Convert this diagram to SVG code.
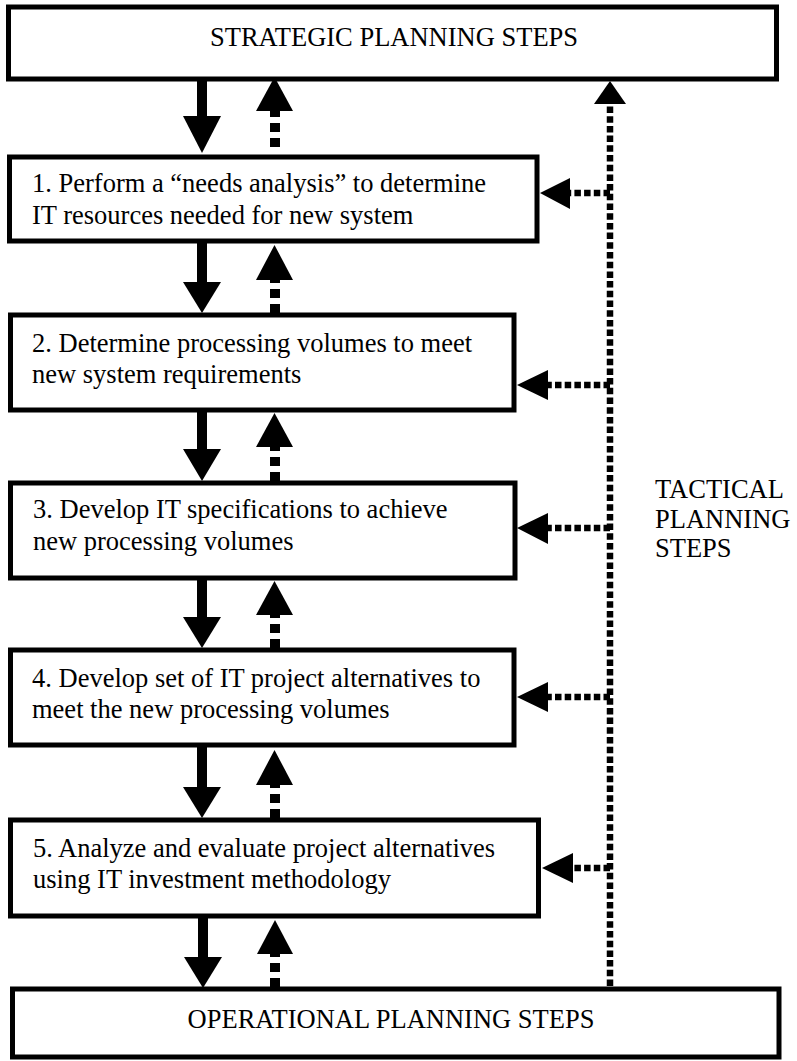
<svg xmlns="http://www.w3.org/2000/svg" width="797" height="1061" viewBox="0 0 797 1061">
  <style>
    .box { fill: #fff; stroke: #000; stroke-width: 5; }
    .lbl { font-family: "Liberation Serif", "Times New Roman", serif; font-size: 26.5px; fill: #000; }
    .solid { stroke: #000; stroke-width: 10; fill: none; }
    .dash { stroke: #000; stroke-width: 10; fill: none; stroke-dasharray: 9 6; }
    .dot { stroke: #000; stroke-width: 6.5; fill: none; stroke-dasharray: 6.5 3.2; }
    .head { fill: #000; }
  </style>
  <rect width="797" height="1061" fill="#fff"/>

  <g id="strategic">
    <rect class="box" x="8.5" y="7" width="768" height="72"/>
    <text class="lbl" x="394" y="46" text-anchor="middle">STRATEGIC PLANNING STEPS</text>
  </g>

  <g id="step1">
    <rect class="box" x="9.5" y="157" width="527.5" height="84"/>
    <text class="lbl" x="32" y="192">1. Perform a “needs analysis” to determine</text>
    <text class="lbl" x="32" y="224">IT resources needed for new system</text>
  </g>

  <g id="step2">
    <rect class="box" x="10.5" y="315" width="503.5" height="95"/>
    <text class="lbl" x="32" y="352">2. Determine processing volumes to meet</text>
    <text class="lbl" x="32" y="383">new system requirements</text>
  </g>

  <g id="step3">
    <rect class="box" x="10.5" y="483" width="504.5" height="95"/>
    <text class="lbl" x="33" y="518">3. Develop IT specifications to achieve</text>
    <text class="lbl" x="33" y="550">new processing volumes</text>
  </g>

  <g id="step4">
    <rect class="box" x="10.5" y="650" width="503.5" height="95"/>
    <text class="lbl" x="32" y="687">4. Develop set of IT project alternatives to</text>
    <text class="lbl" x="32" y="718">meet the new processing volumes</text>
  </g>

  <g id="step5">
    <rect class="box" x="10.5" y="820" width="528" height="96"/>
    <text class="lbl" x="33" y="857">5. Analyze and evaluate project alternatives</text>
    <text class="lbl" x="33" y="888">using IT investment methodology</text>
  </g>

  <g id="operational">
    <rect class="box" x="12.5" y="989" width="766.5" height="68"/>
    <text class="lbl" x="391" y="1028" text-anchor="middle">OPERATIONAL PLANNING STEPS</text>
  </g>

  <g id="tactical">
    <text class="lbl" x="655" y="498" font-size="25.5">TACTICAL</text>
    <text class="lbl" x="655" y="528" font-size="25.5">PLANNING</text>
    <text class="lbl" x="655" y="557" font-size="25.5">STEPS</text>
  </g>

  <g id="connectors">
    <!-- downward solid flows -->
    <line class="solid" x1="202" y1="81" x2="202" y2="118"/>
    <polygon class="head" points="183,116 221,116 202,153"/>
    <line class="solid" x1="202" y1="243" x2="202" y2="285"/>
    <polygon class="head" points="183,282 221,282 202,313"/>
    <line class="solid" x1="202" y1="412" x2="202" y2="452"/>
    <polygon class="head" points="183,449 221,449 202,481"/>
    <line class="solid" x1="202" y1="580" x2="202" y2="620"/>
    <polygon class="head" points="183,617 221,617 202,648"/>
    <line class="solid" x1="202" y1="747" x2="202" y2="790"/>
    <polygon class="head" points="183,787 221,787 202,818"/>
    <line class="solid" x1="203" y1="918" x2="203" y2="960"/>
    <polygon class="head" points="184,957 222,957 203,988"/>

    <!-- upward dashed feedback -->
    <line class="dash" x1="275" y1="147" x2="275" y2="110"/>
    <polygon class="head" points="256,111 293,111 274.5,77"/>
    <line class="dash" x1="275" y1="313" x2="275" y2="279"/>
    <polygon class="head" points="256,280 293,280 274.5,245"/>
    <line class="dash" x1="275" y1="481" x2="275" y2="446"/>
    <polygon class="head" points="256,447 293,447 274.5,413"/>
    <line class="dash" x1="275" y1="648" x2="275" y2="614"/>
    <polygon class="head" points="256,615 293,615 274.5,581"/>
    <line class="dash" x1="275" y1="818" x2="275" y2="784"/>
    <polygon class="head" points="256,785 293,785 274.5,750"/>
    <line class="dash" x1="275" y1="987" x2="275" y2="953"/>
    <polygon class="head" points="257,954 293,954 275,920"/>

    <!-- tactical planning loop on the right -->
    <line class="dot" x1="610" y1="986" x2="610" y2="103"/>
    <polygon class="head" points="594,104 626,104 610,81"/>

    <line class="dot" x1="610" y1="193" x2="569" y2="193"/>
    <polygon class="head" points="570,178 570,209 540,193"/>
    <line class="dot" x1="610" y1="385" x2="547" y2="385"/>
    <polygon class="head" points="548,370 548,400 517,385"/>
    <line class="dot" x1="610" y1="528" x2="547" y2="528"/>
    <polygon class="head" points="548,513 548,544 517,528"/>
    <line class="dot" x1="610" y1="697" x2="547" y2="697"/>
    <polygon class="head" points="548,682 548,712 517,697"/>
    <line class="dot" x1="610" y1="868" x2="572" y2="868"/>
    <polygon class="head" points="573,853 573,883 542,868"/>
  </g>
</svg>
